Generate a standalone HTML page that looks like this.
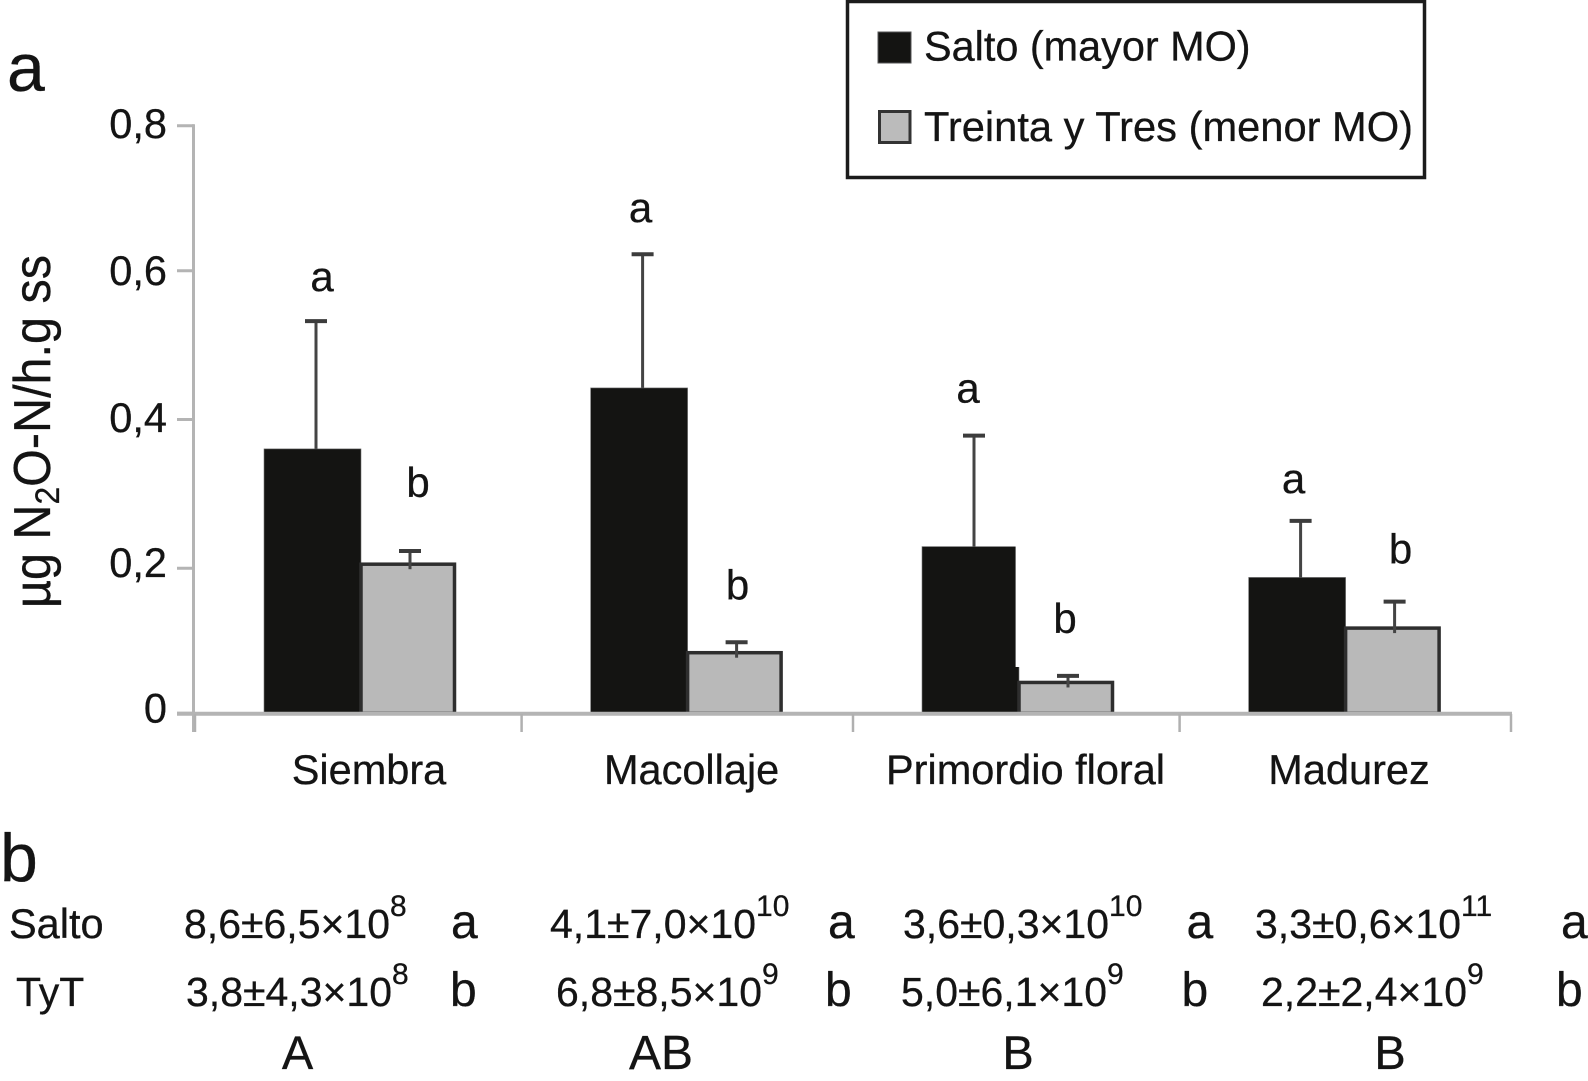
<!DOCTYPE html>
<html lang="es">
<head>
<meta charset="utf-8">
<title>Emisiones de N2O</title>
<style>
html,body{margin:0;padding:0;background:#fff;}
svg{display:block;}
text{font-family:"Liberation Sans",sans-serif;fill:#141414;stroke:#141414;stroke-width:.3;}
</style>
</head>
<body>
<svg id="chart" xmlns="http://www.w3.org/2000/svg" width="1588" height="1081" viewBox="0 0 1588 1081">
  <rect x="0" y="0" width="1588" height="1081" fill="#fff"/>
  <text x="7" y="91" font-size="68">a</text>
  <text transform="translate(50,608) rotate(-90)" font-size="52" textLength="353" lengthAdjust="spacingAndGlyphs">µg N<tspan font-size="34" dy="9">2</tspan><tspan dy="-9">O-N/h.g ss</tspan></text>

  <g id="plot"></g>

  <g>
    <rect x="847.5" y="1.5" width="577" height="176" fill="#fff" stroke="#1c1c1c" stroke-width="3.5"/>
    <rect x="878" y="32" width="33" height="31" fill="#141412" stroke="#555" stroke-width="1"/>
    <text x="924" y="60.5" font-size="41.4">Salto (mayor MO)</text>
    <rect x="879.5" y="111.5" width="30.5" height="31" fill="#bbb" stroke="#333" stroke-width="3"/>
    <text x="924" y="141" font-size="42" textLength="489" lengthAdjust="spacingAndGlyphs">Treinta y Tres (menor MO)</text>
  </g>

  <g>
    <text x="0" y="881" font-size="68">b</text>
    <text x="9" y="938" font-size="41.5">Salto</text>
    <text x="16" y="1006" font-size="41">TyT</text>

    <text x="184" y="938" font-size="41">8,6±6,5×10<tspan font-size="30" dy="-22">8</tspan></text>
    <text x="550" y="938" font-size="41">4,1±7,0×10<tspan font-size="30" dy="-22">10</tspan></text>
    <text x="903" y="938" font-size="41">3,6±0,3×10<tspan font-size="30" dy="-22">10</tspan></text>
    <text x="1255" y="938" font-size="41">3,3±0,6×10<tspan font-size="30" dy="-22">11</tspan></text>

    <text x="186" y="1006" font-size="41">3,8±4,3×10<tspan font-size="30" dy="-22">8</tspan></text>
    <text x="556" y="1006" font-size="41">6,8±8,5×10<tspan font-size="30" dy="-22">9</tspan></text>
    <text x="901" y="1006" font-size="41">5,0±6,1×10<tspan font-size="30" dy="-22">9</tspan></text>
    <text x="1261" y="1006" font-size="41">2,2±2,4×10<tspan font-size="30" dy="-22">9</tspan></text>

    <text x="451" y="938" font-size="48">a</text>
    <text x="828" y="938" font-size="48">a</text>
    <text x="1186.5" y="938" font-size="48">a</text>
    <text x="1561" y="938" font-size="48">a</text>

    <text x="450" y="1006" font-size="48">b</text>
    <text x="825" y="1006" font-size="48">b</text>
    <text x="1181.5" y="1006" font-size="48">b</text>
    <text x="1556" y="1006" font-size="48">b</text>

    <text x="297.5" y="1069" font-size="47" text-anchor="middle">A</text>
    <text x="661" y="1069" font-size="48" text-anchor="middle">AB</text>
    <text x="1018" y="1069" font-size="47" text-anchor="middle">B</text>
    <text x="1390" y="1069" font-size="47" text-anchor="middle">B</text>
  </g>
</svg>
<script>
const categories = ["Siembra", "Macollaje", "Primordio floral", "Madurez"];
const saltoValues = [0.36, 0.443, 0.227, 0.185];
const saltoErrorTops = [0.534, 0.625, 0.378, 0.262];
const tytValues = [0.203, 0.0825, 0.042, 0.116];
const tytErrorTops = [0.221, 0.0967, 0.051, 0.152];
const saltoLetters = ["a", "a", "a", "a"];
const tytLetters = ["b", "b", "b", "b"];
const yTickValues = [0, 0.2, 0.4, 0.6, 0.8];
const yTickLabels = ["0", "0,2", "0,4", "0,6", "0,8"];

const NS = "http://www.w3.org/2000/svg";
const plot = document.getElementById("plot");

function yScale(v) { return 713.3 - v * 734.5; }
function xBand(i) { return 195 + 329 * i - (i % 2 ? 2.4 : 0); }

function make(tag, attrs) {
  const el = document.createElementNS(NS, tag);
  for (const k in attrs) el.setAttribute(k, attrs[k]);
  plot.appendChild(el);
  return el;
}

function drawErrorBar(x, top, bottom, name) {
  const stem = make("line", { x1: x, x2: x, y1: top, y2: bottom, stroke: "#444", "stroke-width": 3 });
  
  
  const cap = make("line", { x1: x - 11, x2: x + 11, y1: top, y2: top, stroke: "#3c3c3c", "stroke-width": 4 });
  
  
}

function drawBars() {
  const saltoGap = [30, 32, 33, 28];
  const tytGap = [54, 43, 43, 38];
  const saltoShift = [6, -2, -6, -7];
  const tytShift = [8, 1, -3, 6];
  categories.forEach(function (cat, i) {
    const bx = xBand(i) + 69;
    const gx = bx + 97;
    const sTop = yScale(saltoValues[i]);
    const tTop = yScale(tytValues[i]);
    const base = yScale(0);

    const black = make("rect", { x: bx, y: sTop, width: 97, height: base - sTop, fill: "#141412", stroke: "#777", "stroke-width": 0.6 });
    
    

    const grey = make("rect", { x: gx, y: tTop, width: 93.5, height: base - tTop, fill: "#b9b9b9", stroke: "#2e2e2e", "stroke-width": 3.5 });
    
    

    if (i === 2) {
      const notch = make("rect", { x: gx - 3.4, y: sTop - 1, width: 4.4, height: Math.max(0, 668 - sTop), fill: "#fff" });
      
      
    }

    const sErr = yScale(saltoErrorTops[i]);
    const tErr = yScale(tytErrorTops[i]);
    drawErrorBar(bx + 52, sErr, sTop, 'error-bar-salto');
    drawErrorBar(gx + 49, tErr, tTop + 5, 'error-bar-treinta-y-tres');

    const sl = make("text", { x: bx + 52 + saltoShift[i], y: sErr - saltoGap[i], "font-size": 42, "text-anchor": "middle" });
    sl.textContent = saltoLetters[i];
    
    

    const tl = make("text", { x: gx + 49 + tytShift[i], y: tErr - tytGap[i], "font-size": 42, "text-anchor": "middle" });
    tl.textContent = tytLetters[i];
    
    
  });
}

function drawAxes() {
  const tickNudge = [0, 1.9, 0, -1.9, 0];
  const labelDrop = [9, 8.7, 12.5, 14.3, 12.3];

  const yAxis = make("line", { x1: 193.5, x2: 193.5, y1: yScale(0.8) - 1.5, y2: 732, stroke: "#b4b4b4", "stroke-width": 3 });
  
  

  const xAxis = make("line", { x1: 177, x2: 1512, y1: 713.8, y2: 713.8, stroke: "#b4b4b4", "stroke-width": 4 });
  
  

  yTickValues.forEach(function (v, i) {
    const y = yScale(v) + tickNudge[i];
    const tick = make("line", { x1: 177, x2: 194, y1: y, y2: y, stroke: "#b4b4b4", "stroke-width": 3 });
    
    

    const label = make("text", { x: 167, y: y + labelDrop[i], "font-size": 41.5, "text-anchor": "end" });
    label.textContent = yTickLabels[i];
    
    
  });

  for (let i = 0; i <= categories.length; i++) {
    const x = xBand(i);
    const tick = make("line", { x1: x, x2: x, y1: 714, y2: 732, stroke: "#b0b0b0", "stroke-width": 2.5 });
    
    
  }

  const labelOffset = [174, 170, 172.5, 169.4];
  categories.forEach(function (cat, i) {
    const label = make("text", { x: xBand(i) + labelOffset[i], y: 784, "font-size": 41.5, "text-anchor": "middle" });
    label.textContent = cat;
    
    
  });
}

drawBars();
drawAxes();
</script>
</body>
</html>
